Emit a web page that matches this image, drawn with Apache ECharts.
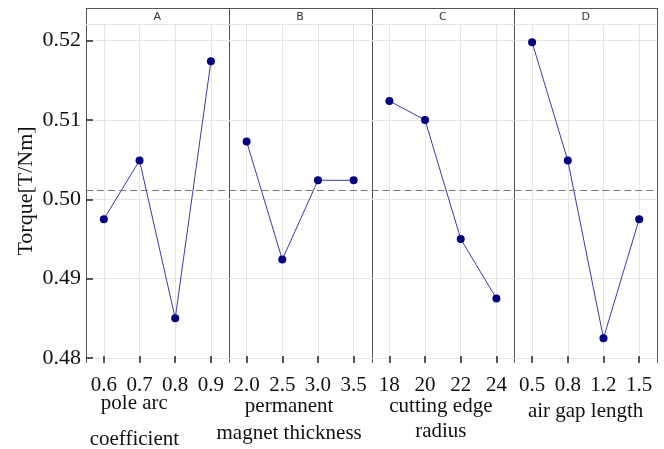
<!DOCTYPE html>
<html>
<head>
<meta charset="utf-8">
<script src="https://cdn.jsdelivr.net/npm/echarts@6/dist/echarts.min.js"></script>
<style>
  html, body { margin: 0; padding: 0; background: #fff; }
  #chart { width: 664px; height: 449px; }
</style>
</head>
<body>
<div id="chart"></div>
<script>
// factors and their levels
const factorKeys = ['A', 'B', 'C', 'D'];
const factorNames = ['pole arc\ncoefficient', 'permanent\nmagnet thickness', 'cutting edge\nradius', 'air gap length'];
const levelsA = ['0.6', '0.7', '0.8', '0.9'];
const levelsB = ['2.0', '2.5', '3.0', '3.5'];
const levelsC = ['18', '20', '22', '24'];
const levelsD = ['0.5', '0.8', '1.2', '1.5'];

// mean torque at each level
const torqueA = [0.4975, 0.5049, 0.4850, 0.5174];
const torqueB = [0.5073, 0.4924, 0.5024, 0.5024];
const torqueC = [0.5124, 0.5100, 0.4950, 0.4875];
const torqueD = [0.5198, 0.5049, 0.4825, 0.4975];

const yTicks = [0.48, 0.49, 0.50, 0.51, 0.52];

const levels = [levelsA, levelsB, levelsC, levelsD];
const torque = [torqueA, torqueB, torqueC, torqueD];

// grand mean -> dashed reference line
const all = torque.flat();
const grandMean = all.reduce((s, v) => s + v, 0) / all.length;

// layout
const L = 86, R = 657, W = (R - L) / 4;
const headTop = 8, plotTop = 24, plotBottom = 358, axisBottom = 363;
const nameGaps = [22, 30, 31, 36];
const nameLH = [36, 27, 25, 25];
const namePad = [[0, 46, 0, 0], [0, 22, 0, 0], [0, 4, 0, 0], [0, 0, 0, 0]];

const serif = 'Liberation Serif';
const gridColor = '#e6e6e6';
const frameColor = '#555';

const grid = [], xAxis = [], yAxis = [], series = [];
factorKeys.forEach((k, i) => {
  grid.push({
    left: L + i * W, top: plotTop, width: W, height: plotBottom - plotTop,
    containLabel: false, outerBoundsMode: 'none'
  });

  xAxis.push({
    type: 'category',
    gridIndex: i,
    data: levels[i],
    boundaryGap: true,
    offset: axisBottom - plotBottom,
    axisLine: { show: false },
    axisTick: { show: true, inside: true, length: 7, alignWithLabel: true, lineStyle: { color: '#222', width: 1.5 } },
    axisLabel: { fontFamily: serif, fontSize: 21, color: '#111', margin: 12, interval: 0 },
    splitLine: { show: true, alignWithLabel: true, lineStyle: { color: gridColor } },
    name: factorNames[i],
    nameLocation: 'middle',
    nameGap: nameGaps[i],
    nameMoveOverlap: false,
    nameTextStyle: { fontFamily: serif, fontSize: 21, color: '#111', lineHeight: nameLH[i], padding: namePad[i] }
  });

  const first = i === 0;
  yAxis.push({
    type: 'value',
    gridIndex: i,
    min: yTicks[0],
    max: 0.5221,
    interval: 0.01,
    axisLine: { show: false },
    axisTick: { show: first, inside: true, length: 7, lineStyle: { color: '#222', width: 1.5 } },
    axisLabel: {
      show: first, fontFamily: serif, fontSize: 22, color: '#111', margin: 5,
      showMaxLabel: false,
      formatter: v => v.toFixed(2)
    },
    splitLine: { show: true, lineStyle: { color: gridColor } },
    name: first ? 'Torque[T/Nm]' : '',
    nameLocation: 'middle',
    nameGap: 49,
    nameMoveOverlap: false,
    nameTextStyle: { fontFamily: serif, fontSize: 22, color: '#111' }
  });

  series.push({
    type: 'line',
    xAxisIndex: i,
    yAxisIndex: i,
    data: torque[i],
    symbol: 'circle',
    symbolSize: 8,
    itemStyle: { color: '#000080' },
    lineStyle: { color: '#3a3aa6', width: 1 },
    markLine: {
      silent: true,
      symbol: 'none',
      precision: 5,
      label: { show: false },
      lineStyle: { color: '#777', width: 1, type: [7, 4] },
      data: [{ yAxis: grandMean }]
    },
    z: 3
  });
});

// panel frame and facet headers
const graphic = [];
graphic.push({
  type: 'rect', silent: true,
  shape: { x: L + 0.5, y: headTop + 0.5, width: R - L, height: plotTop - headTop },
  style: { fill: '#fff', stroke: frameColor, lineWidth: 1 }
});
for (let i = 0; i <= 4; i++) {
  const x = Math.round(L + i * W) + 0.5;
  graphic.push({
    type: 'line', silent: true,
    shape: { x1: x, y1: headTop, x2: x, y2: axisBottom },
    style: { stroke: frameColor, lineWidth: 1 }
  });
}
factorKeys.forEach((k, i) => {
  graphic.push({
    type: 'text', silent: true,
    x: L + (i + 0.5) * W, y: (headTop + plotTop) / 2 + 1,
    style: { text: k, font: '11px "DejaVu Sans"', fill: '#333', align: 'center', verticalAlign: 'middle' }
  });
});

const chart = echarts.init(document.getElementById('chart'));
chart.setOption({
  animation: false,
  grid,
  xAxis,
  yAxis,
  series,
  graphic
});
</script>
</body>
</html>
